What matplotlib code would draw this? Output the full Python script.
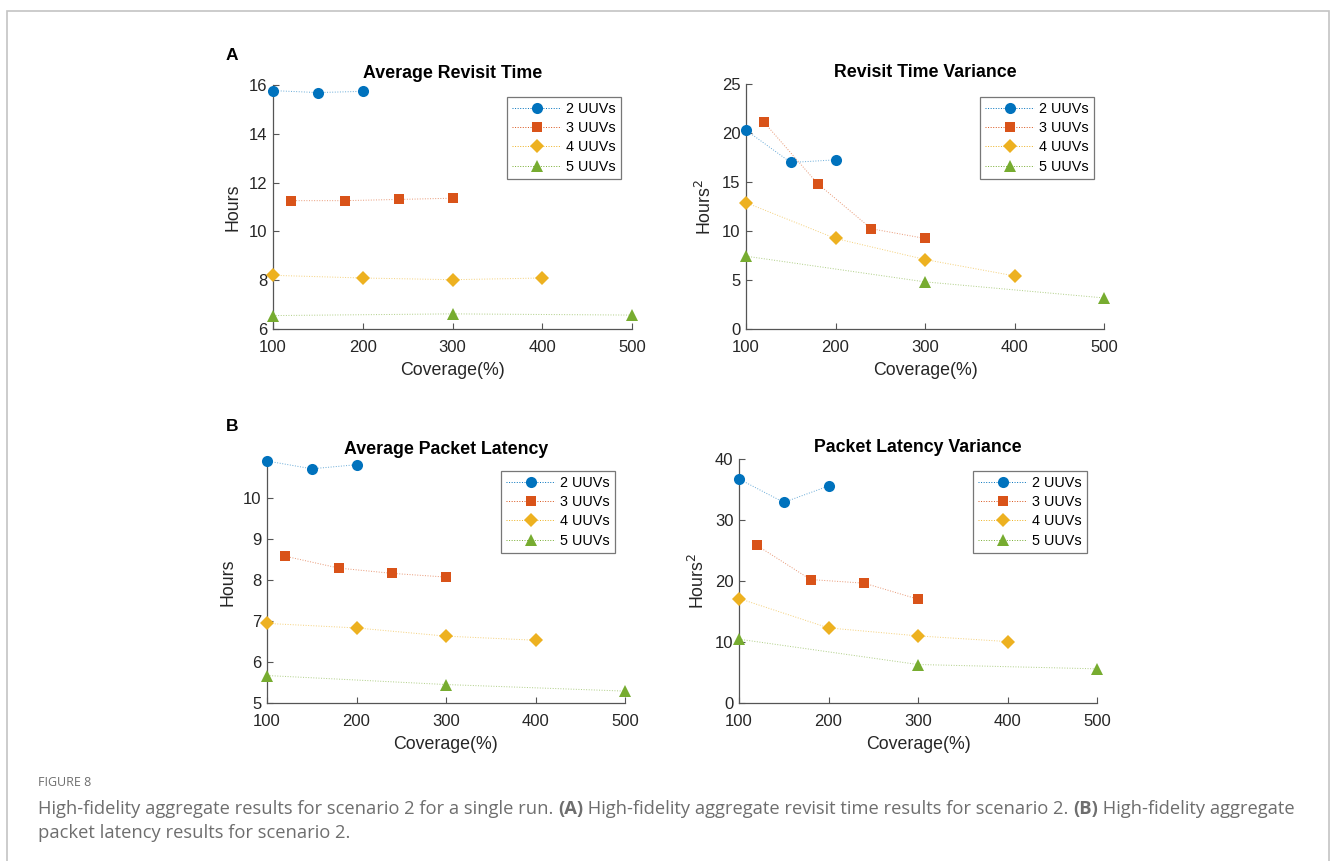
import numpy as np
import matplotlib
matplotlib.use('Agg')
import matplotlib.pyplot as plt
from matplotlib.patches import Rectangle

plt.rcParams['font.family'] = ['Liberation Sans', 'DejaVu Sans']

# MATLAB default colour order
colors = ['#0072BD', '#D95319', '#EDB120', '#77AC30']
markers = ['o', 's', 'D', '^']
msizes = [8, 6.5, 7.5, 8.5]
labels = ['2 UUVs', '3 UUVs', '4 UUVs', '5 UUVs']

# coverage (%) per fleet size
cov2 = [100, 150, 200]
cov3 = [120, 180, 240, 300]
cov4 = [100, 200, 300, 400]
cov5 = [100, 300, 500]
coverages = [cov2, cov3, cov4, cov5]

# (A) revisit time
revisit_mean = [
    [15.77, 15.69, 15.74],
    [11.26, 11.26, 11.31, 11.36],
    [8.20, 8.09, 8.02, 8.09],
    [6.55, 6.62, 6.57],
]
revisit_var = [
    [20.29, 16.99, 17.26],
    [21.11, 14.84, 10.23, 9.24],
    [12.89, 9.24, 7.09, 5.42],
    [7.43, 4.81, 3.17],
]
# (B) packet latency
latency_mean = [
    [10.90, 10.71, 10.81],
    [8.58, 8.29, 8.16, 8.07],
    [6.94, 6.83, 6.63, 6.53],
    [5.67, 5.45, 5.29],
]
latency_var = [
    [36.72, 32.89, 35.57],
    [25.83, 20.24, 19.64, 17.02],
    [17.13, 12.31, 11.00, 10.07],
    [10.46, 6.31, 5.60],
]

W, H = 1331, 861
fig = plt.figure(figsize=(W / 100, H / 100), dpi=100)

# light frame round the figure
fig.patches.append(Rectangle((7 / W, -0.01), 1322 / W, 1 - 11 / H + 0.01,
                             transform=fig.transFigure, fill=False,
                             edgecolor='#c4c4c4', linewidth=1.2))


def px_axes(left, top, right, bottom):
    return fig.add_axes([left / W, 1 - bottom / H, (right - left) / W, (bottom - top) / H])


def draw_panel(ax, data, title, ylabel, ylim, yticks, legend_xy):
    for cov, vals, c, m, ms, lab in zip(coverages, data, colors, markers, msizes, labels):
        ax.plot(cov, vals, linestyle=':', color=c, linewidth=0.7, alpha=0.6, clip_on=False)
        ax.plot(cov, vals, linestyle='none', marker=m, color=c, markersize=ms,
                markeredgewidth=0, clip_on=False, zorder=3)
        # legend proxy
        ax.plot([], [], linestyle=':', color=c, linewidth=0.7, marker=m,
                markersize=ms, markeredgewidth=0, label=lab)
    ax.set_xlim(100, 500)
    ax.set_xticks([100, 200, 300, 400, 500])
    ax.set_ylim(*ylim)
    ax.set_yticks(yticks)
    ax.spines['top'].set_visible(False)
    ax.spines['right'].set_visible(False)
    for s in ['left', 'bottom']:
        ax.spines[s].set_color('#555555')
        ax.spines[s].set_linewidth(0.9)
    ax.tick_params(direction='in', length=4, width=0.8, color='#555555',
                   labelsize=12, labelcolor='#262626')
    ax.tick_params(axis='x', pad=8)
    ax.tick_params(axis='y', pad=4)
    ax.set_title(title, fontsize=12.8, fontweight='bold', pad=5)
    ax.set_xlabel('Coverage(%)', fontsize=12.8, color='#262626', labelpad=5)
    ax.set_ylabel(ylabel, fontsize=12.8, color='#262626', labelpad=5)
    leg = ax.legend(loc='upper left', bbox_to_anchor=legend_xy, bbox_transform=fig.transFigure,
                    fontsize=10.4, frameon=True, fancybox=False, handlelength=3.4,
                    handletextpad=0.35, borderpad=0.35, labelspacing=0.36,
                    borderaxespad=0)
    leg.get_frame().set_edgecolor('#555555')
    leg.get_frame().set_linewidth(0.9)


ax1 = px_axes(273, 85, 632, 329)
draw_panel(ax1, revisit_mean, 'Average Revisit Time', 'Hours', (6, 16),
           [6, 8, 10, 12, 14, 16], (507 / W, 1 - 97 / H))

ax2 = px_axes(746, 84, 1104, 329)
draw_panel(ax2, revisit_var, 'Revisit Time Variance', 'Hours$^2$', (0, 25),
           [0, 5, 10, 15, 20, 25], (980 / W, 1 - 97 / H))

ax3 = px_axes(267, 461, 625, 703)
top3 = max(max(v) for v in latency_mean)
draw_panel(ax3, latency_mean, 'Average Packet Latency', 'Hours', (5, top3),
           [5, 6, 7, 8, 9, 10], (501 / W, 1 - 471 / H))

ax4 = px_axes(739, 459, 1097, 703)
draw_panel(ax4, latency_var, 'Packet Latency Variance', 'Hours$^2$', (0, 40),
           [0, 10, 20, 30, 40], (973 / W, 1 - 471 / H))

# panel letters
fig.text(232 / W, 1 - 55 / H, 'A', fontsize=12.5, fontweight='bold', ha='center', va='center')
fig.text(232 / W, 1 - 427 / H, 'B', fontsize=12.5, fontweight='bold', ha='center', va='center')

# caption
cap_font = ['Open Sans', 'DejaVu Sans']
cap_color = '#6e6e6e'
cap_size = 13.2
fig.text(38 / W, 1 - 783 / H, 'FIGURE 8', fontsize=9, color=cap_color,
         family=cap_font, va='center')

parts = [
    ('High-fidelity aggregate results for scenario 2 for a single run. ', 'normal'),
    ('(A)', 'bold'),
    (' High-fidelity aggregate revisit time results for scenario 2. ', 'normal'),
    ('(B)', 'bold'),
    (' High-fidelity aggregate', 'normal'),
]
prev = fig.text(38 / W, 1 - 818 / H, parts[0][0], fontsize=cap_size, color=cap_color,
                family=cap_font, va='bottom', fontweight=parts[0][1])
for txt, wt in parts[1:]:
    prev = fig.add_artist(matplotlib.text.Annotation(
        txt, xy=(1, 0), xycoords=prev, va='bottom', ha='left', fontsize=cap_size,
        color=cap_color, family=cap_font, fontweight=wt, annotation_clip=False))
fig.text(38 / W, 1 - 842 / H, 'packet latency results for scenario 2.', fontsize=cap_size,
         color=cap_color, family=cap_font, va='bottom')

fig.savefig('out.png', dpi=100)
